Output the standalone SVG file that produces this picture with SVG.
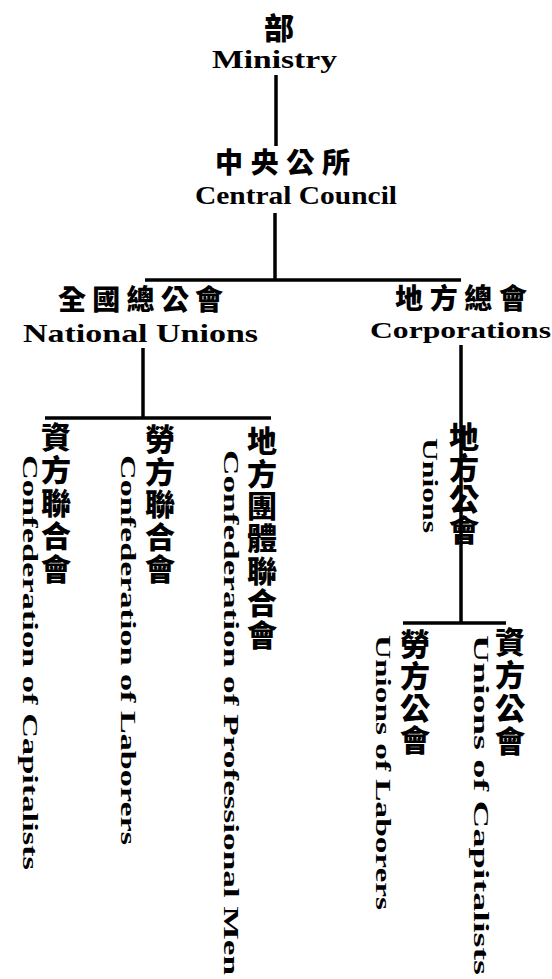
<svg xmlns="http://www.w3.org/2000/svg" width="552" height="979" viewBox="0 0 552 979">
<style>
.cj{font-family:"Noto Sans CJK TC","Noto Sans CJK SC",sans-serif;font-weight:900;fill:#000;text-anchor:middle;dominant-baseline:central}
.cjv{font-family:"Noto Sans CJK TC","Noto Sans CJK SC",sans-serif;font-weight:900;fill:#000;font-size:30px;writing-mode:vertical-rl;text-orientation:upright;text-anchor:start}
.en{font-family:"Liberation Serif","DejaVu Serif",serif;font-weight:bold;fill:#000}
.env{font-family:"Liberation Serif","DejaVu Serif",serif;font-weight:bold;fill:#000;font-size:22px}
.ln{stroke:#000;stroke-width:3.5;fill:none;stroke-linecap:butt}
</style>
<rect width="552" height="979" fill="#fff"/>
<g id="connectors">
<line class="ln" x1="276" y1="75" x2="276" y2="146"/>
<line class="ln" x1="275" y1="213" x2="275" y2="281"/>
<line class="ln" x1="145" y1="280" x2="461" y2="280"/>
<line class="ln" x1="143" y1="348" x2="143" y2="419"/>
<line class="ln" x1="45" y1="418" x2="271" y2="418"/>
<line class="ln" x1="461" y1="345" x2="461" y2="624"/>
<line class="ln" x1="403" y1="623" x2="506" y2="623"/>
</g>
<g id="ministry">
<text class="cj" x="279" y="26" font-size="30">部</text>
<text class="en" x="212" y="68" font-size="26" textLength="125" lengthAdjust="spacingAndGlyphs">Ministry</text>
</g>
<g id="central-council">
<text class="cj" x="215" y="161" font-size="28" textLength="135" lengthAdjust="spacing" style="text-anchor:start">中央公所</text>
<text class="en" x="195" y="204" font-size="26" textLength="202" lengthAdjust="spacingAndGlyphs">Central  Council</text>
</g>
<g id="national-unions">
<text class="cj" x="58" y="298" font-size="28" textLength="165" lengthAdjust="spacing" style="text-anchor:start">全國總公會</text>
<text class="en" x="23" y="342" font-size="25" textLength="235" lengthAdjust="spacingAndGlyphs">National Unions</text>
</g>
<g id="corporations">
<text class="cj" x="395" y="297" font-size="28" textLength="132" lengthAdjust="spacing" style="text-anchor:start">地方總會</text>
<text class="en" x="370" y="338" font-size="24" textLength="181" lengthAdjust="spacingAndGlyphs">Corporations</text>
</g>
<g id="confederation-capitalists">
<text class="cjv" x="56" y="422" letter-spacing="3">資方聯合會</text>
<text class="env" transform="translate(22.5,455) rotate(90)" textLength="415" lengthAdjust="spacingAndGlyphs">Confederation  of  Capitalists</text>
</g>
<g id="confederation-laborers">
<text class="cjv" x="160" y="424" letter-spacing="2.5">勞方聯合會</text>
<text class="env" transform="translate(120.5,455) rotate(90)" textLength="390" lengthAdjust="spacingAndGlyphs">Confederation  of  Laborers</text>
</g>
<g id="confederation-professional">
<text class="cjv" x="262" y="426" letter-spacing="2.3">地方團體聯合會</text>
<text class="env" transform="translate(224,450) rotate(90)" textLength="525" lengthAdjust="spacingAndGlyphs">Confederation  of  Professional  Men</text>
</g>
<g id="local-unions">
<text class="cjv" x="464" y="422" letter-spacing="1">地方公會</text>
<text class="env" transform="translate(422.5,438) rotate(90)" textLength="95" lengthAdjust="spacingAndGlyphs">Unions</text>
</g>
<g id="unions-laborers">
<text class="cjv" x="415" y="629" letter-spacing="2">勞方公會</text>
<text class="env" transform="translate(375.5,635) rotate(90)" textLength="275" lengthAdjust="spacingAndGlyphs">Unions  of  Laborers</text>
</g>
<g id="unions-capitalists">
<text class="cjv" x="510" y="627" letter-spacing="3">資方公會</text>
<text class="env" transform="translate(474,635) rotate(90)" textLength="340" lengthAdjust="spacingAndGlyphs">Unions  of  Capitalists</text>
</g>
</svg>
